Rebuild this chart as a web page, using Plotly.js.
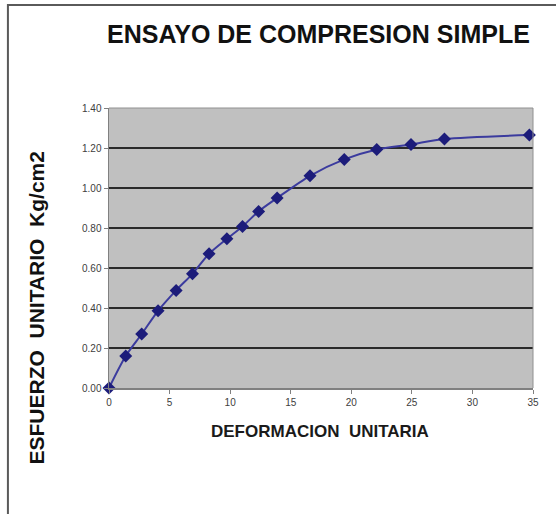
<!DOCTYPE html>
<html>
<head>
<meta charset="utf-8">
<script src="https://cdn.plot.ly/plotly-3.0.1.min.js"></script>
<style>
html,body{margin:0;padding:0;background:#fff;}
#chart{width:556px;height:514px;}
</style>
</head>
<body>
<div id="chart"></div>
<script>
// Data
const deformacion = [0, 1.38, 2.70, 4.05, 5.54, 6.89, 8.26, 9.73, 11.02, 12.35, 13.88, 16.59, 19.42, 22.10, 24.93, 27.69, 34.70];
const esfuerzo    = [0.00, 0.16, 0.27, 0.386, 0.488, 0.571, 0.671, 0.746, 0.808, 0.883, 0.95, 1.061, 1.143, 1.193, 1.218, 1.245, 1.265];
const yTicks = [0, 0.2, 0.4, 0.6, 0.8, 1.0, 1.2, 1.4];
const yTickLabels = ["0.00", "0.20", "0.40", "0.60", "0.80", "1.00", "1.20", "1.40"];
const xTicks = [0, 5, 10, 15, 20, 25, 30, 35];
const titleText = 'ENSAYO DE COMPRESION SIMPLE';
const xTitleText = 'DEFORMACION  UNITARIA';
const yTitleText = 'ESFUERZO  UNITARIO  Kg/cm2';

const trace = {
  x: deformacion,
  y: esfuerzo,
  type: 'scatter',
  mode: 'lines+markers',
  line: {color: '#3b3b9e', width: 2, shape: 'spline', smoothing: 0.8},
  marker: {symbol: 'diamond', size: 10, color: '#1c1c7a'},
  cliponaxis: false,
  hoverinfo: 'skip'
};

const tickFont = {family: 'Liberation Sans Narrow, Arial Narrow, Liberation Sans, sans-serif', size: 10, color: '#404040'};

const layout = {
  width: 556,
  height: 514,
  margin: {l: 109, r: 23, t: 108, b: 126, pad: 0},
  paper_bgcolor: '#ffffff',
  plot_bgcolor: '#c0c0c0',
  showlegend: false,
  title: {
    text: '<b>' + titleText + '</b>',
    font: {family: 'Liberation Sans, Arial, sans-serif', size: 25, color: '#111111'},
    x: 0.494, xanchor: 'center', xref: 'paper',
    y: 0.934, yanchor: 'middle', yref: 'container'
  },
  xaxis: {
    range: [0, 35],
    tickvals: xTicks,
    ticktext: xTicks.map(String),
    showgrid: false,
    zeroline: false,
    showline: true,
    linecolor: '#808080',
    linewidth: 1.5,
    ticks: 'outside',
    ticklen: 4,
    tickcolor: '#808080',
    tickfont: tickFont,
    fixedrange: true
  },
  yaxis: {
    range: [0, 1.4],
    tickvals: yTicks,
    ticktext: yTickLabels,
    showgrid: true,
    gridcolor: '#2a2a2a',
    gridwidth: 2,
    zeroline: false,
    showline: true,
    linecolor: '#808080',
    linewidth: 1.5,
    ticks: 'outside',
    ticklen: 4,
    tickcolor: '#808080',
    tickfont: tickFont,
    fixedrange: true
  },
  annotations: [
    {text: '<b>' + xTitleText + '</b>', xref: 'paper', yref: 'paper',
     x: 0.4965, y: -0.1571, xanchor: 'center', yanchor: 'middle', showarrow: false,
     font: {family: 'Liberation Sans, Arial, sans-serif', size: 17, color: '#1a1a1a'}},
    {text: '<b>' + yTitleText + '</b>', xref: 'paper', yref: 'paper', textangle: -90,
     x: -0.1733, y: 0.2857, xanchor: 'center', yanchor: 'middle', showarrow: false,
     font: {family: 'Liberation Sans, Arial, sans-serif', size: 21, color: '#111111'}}
  ],
  shapes: [
    // outer chart frame (left and top visible)
    {type: 'rect', xref: 'paper', yref: 'paper', x0: -0.2384, x1: 1.1, y0: -0.65, y1: 1.368,
     line: {color: '#5a5a5a', width: 2}, fillcolor: 'rgba(0,0,0,0)', layer: 'below'},
    // plot area frame (top and right)
    {type: 'line', xref: 'paper', yref: 'paper', x0: 0, x1: 1, y0: 1, y1: 1, line: {color: '#909090', width: 1}},
    {type: 'line', xref: 'paper', yref: 'paper', x0: 1, x1: 1, y0: 0, y1: 1, line: {color: '#909090', width: 1}}
  ]
};

Plotly.newPlot('chart', [trace], layout, {displayModeBar: false, staticPlot: true});
</script>
</body>
</html>
